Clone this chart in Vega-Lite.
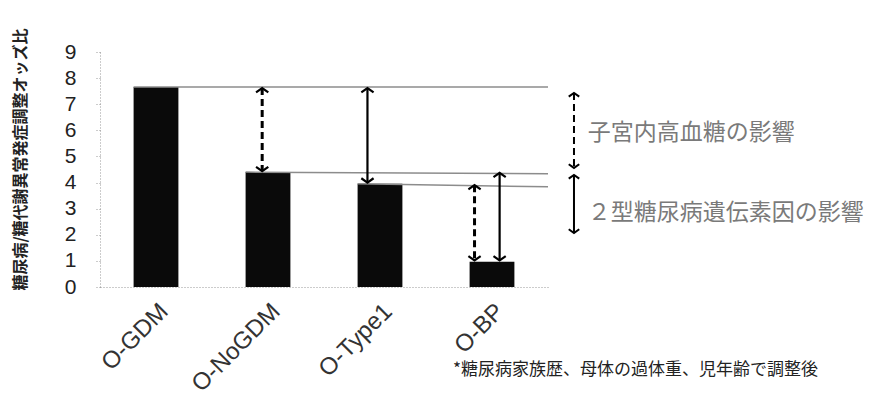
{
  "$schema": "https://vega.github.io/schema/vega-lite/v6.json",
  "width": 448,
  "height": 235,
  "autosize": "none",
  "padding": {"left": 100, "top": 52, "right": 326, "bottom": 116},
  "background": "white",
  "config": {
    "view": {"stroke": null},
    "font": "Liberation Sans",
    "scale": {"bandPaddingInner": 0.6, "bandPaddingOuter": 0.3},
    "axis": {"domainColor": "#999", "domainDash": [1, 2], "tickColor": "#999", "tickDash": [1, 2], "labelColor": "#222", "labelFont": "Liberation Sans", "grid": false}
  },
  "datasets": {
    "bars": [
      {"group": "O-GDM", "or": 7.66},
      {"group": "O-NoGDM", "or": 4.4},
      {"group": "O-Type1", "or": 3.95},
      {"group": "O-BP", "or": 0.97}
    ],
    "lines": [
      {"group": "O-GDM", "y": 7.66, "yEnd": 7.66},
      {"group": "O-NoGDM", "y": 4.4, "yEnd": 4.34},
      {"group": "O-Type1", "y": 3.95, "yEnd": 3.84}
    ],
    "arrows": [
      {"group": "O-NoGDM", "effect": "子宮内高血糖の影響", "pos": 0.37, "top": 7.62, "bottom": 4.44},
      {"group": "O-Type1", "effect": "２型糖尿病遺伝素因の影響", "pos": 0.22, "top": 7.62, "bottom": 4.0},
      {"group": "O-BP", "effect": "子宮内高血糖の影響", "pos": 0.11, "top": 3.9, "bottom": 1.02},
      {"group": "O-BP", "effect": "２型糖尿病遺伝素因の影響", "pos": 0.67, "top": 4.37, "bottom": 1.02}
    ],
    "legend": [
      {"effect": "子宮内高血糖の影響", "top": 7.43, "bottom": 4.56, "labelY": 5.89},
      {"effect": "２型糖尿病遺伝素因の影響", "top": 4.29, "bottom": 2.07, "labelY": 2.83}
    ],
    "note": [
      {"text": "*糖尿病家族歴、母体の過体重、児年齢で調整後"}
    ]
  },
  "layer": [
    {
      "data": {"name": "bars"},
      "mark": {"type": "bar", "color": "#0a0a0a", "width": 44.8},
      "encoding": {
        "x": {"field": "group", "type": "nominal", "scale": {"domain": ["O-GDM", "O-NoGDM", "O-Type1", "O-BP"]}, "title": null,
          "axis": {"labelAngle": -45, "labelFontSize": 24, "ticks": false, "labelPadding": 12, "labelColor": "#333", "labelAlign": "right", "labelBaseline": "top"}},
        "y": {"field": "or", "type": "quantitative", "scale": {"domain": [0, 9], "nice": false},
          "title": "糖尿病/糖代謝異常発症調整オッズ比",
          "axis": {"values": [0, 1, 2, 3, 4, 5, 6, 7, 8, 9], "tickCount": 10, "labelOverlap": false, "labelFontSize": 21, "tickSize": 4, "labelPadding": 20,
            "titleFont": "Noto Sans CJK JP", "titleFontSize": 16, "titleFontWeight": "bold", "titleColor": "#222",
            "titleX": -80, "titleY": 107, "titleBaseline": "middle", "titleAngle": -90, "titleAlign": "center"}}
      }
    },
    {
      "data": {"name": "lines"},
      "mark": {"type": "rule", "color": "#8c8c8c", "strokeWidth": 1.5},
      "encoding": {
        "x": {"field": "group", "type": "nominal", "bandPosition": 0, "scale": {"domain": ["O-GDM", "O-NoGDM", "O-Type1", "O-BP"]}, "title": null},
        "x2": {"datum": "O-BP", "bandPosition": 1.75},
        "y": {"field": "y", "type": "quantitative", "scale": {"domain": [0, 9], "nice": false}, "title": "糖尿病/糖代謝異常発症調整オッズ比"},
        "y2": {"field": "yEnd"}
      }
    },
    {
      "data": {"name": "arrows"},
      "mark": {"type": "rule", "color": "#000"},
      "encoding": {
        "x": {"field": "group", "type": "nominal", "scale": {"domain": ["O-GDM", "O-NoGDM", "O-Type1", "O-BP"]}, "title": null},
        "xOffset": {"field": "pos", "type": "quantitative", "scale": {"domain": [0, 1], "nice": false, "zero": false}},
        "y": {"field": "top", "type": "quantitative", "scale": {"domain": [0, 9], "nice": false}, "title": "糖尿病/糖代謝異常発症調整オッズ比"},
        "y2": {"field": "bottom"},
        "strokeDash": {"field": "effect", "type": "nominal", "scale": {"domain": ["子宮内高血糖の影響", "２型糖尿病遺伝素因の影響"], "range": [[7, 4], [1, 0]]}, "legend": null},
        "strokeWidth": {"field": "effect", "type": "ordinal", "scale": {"domain": ["子宮内高血糖の影響", "２型糖尿病遺伝素因の影響"], "range": [3, 2.2]}, "legend": null}
      }
    },
    {
      "data": {"name": "arrows"},
      "transform": [{"fold": ["top", "bottom"], "as": ["end", "yv"]}],
      "mark": {"type": "point", "filled": false, "stroke": "#000", "strokeWidth": 2.2, "opacity": 1, "size": 150},
      "encoding": {
        "x": {"field": "group", "type": "nominal", "scale": {"domain": ["O-GDM", "O-NoGDM", "O-Type1", "O-BP"]}, "title": null},
        "xOffset": {"field": "pos", "type": "quantitative", "scale": {"domain": [0, 1], "nice": false, "zero": false}},
        "y": {"field": "yv", "type": "quantitative", "scale": {"domain": [0, 9], "nice": false}, "title": "糖尿病/糖代謝異常発症調整オッズ比"},
        "shape": {"field": "end", "type": "nominal", "scale": {"domain": ["top", "bottom"], "range": ["M-1,0.7L0,0L1,0.7", "M-1,-0.7L0,0L1,-0.7"]}, "legend": null}
      }
    },
    {
      "data": {"name": "legend"},
      "mark": {"type": "rule", "color": "#000", "strokeWidth": 2},
      "encoding": {
        "x": {"datum": "O-BP", "type": "nominal", "scale": {"domain": ["O-GDM", "O-NoGDM", "O-Type1", "O-BP"]}, "title": null},
        "xOffset": {"datum": 2.33, "type": "quantitative", "scale": {"domain": [0, 1], "nice": false, "zero": false}},
        "y": {"field": "top", "type": "quantitative", "scale": {"domain": [0, 9], "nice": false}, "title": "糖尿病/糖代謝異常発症調整オッズ比"},
        "y2": {"field": "bottom"},
        "strokeDash": {"field": "effect", "type": "nominal", "scale": {"domain": ["子宮内高血糖の影響", "２型糖尿病遺伝素因の影響"], "range": [[4, 2], [1, 0]]}, "legend": null}
      }
    },
    {
      "data": {"name": "legend"},
      "transform": [{"fold": ["top", "bottom"], "as": ["end", "yv"]}],
      "mark": {"type": "point", "filled": false, "stroke": "#000", "strokeWidth": 2, "opacity": 1, "size": 110},
      "encoding": {
        "x": {"datum": "O-BP", "type": "nominal", "scale": {"domain": ["O-GDM", "O-NoGDM", "O-Type1", "O-BP"]}, "title": null},
        "xOffset": {"datum": 2.33, "type": "quantitative", "scale": {"domain": [0, 1], "nice": false, "zero": false}},
        "y": {"field": "yv", "type": "quantitative", "scale": {"domain": [0, 9], "nice": false}, "title": "糖尿病/糖代謝異常発症調整オッズ比"},
        "shape": {"field": "end", "type": "nominal", "scale": {"domain": ["top", "bottom"], "range": ["M-1,0.7L0,0L1,0.7", "M-1,-0.7L0,0L1,-0.7"]}, "legend": null}
      }
    },
    {
      "data": {"name": "legend"},
      "mark": {"type": "text", "align": "left", "baseline": "middle", "font": "Noto Sans CJK JP", "fontSize": 23, "color": "#7a7a7a"},
      "encoding": {
        "x": {"datum": "O-BP", "type": "nominal", "scale": {"domain": ["O-GDM", "O-NoGDM", "O-Type1", "O-BP"]}, "title": null},
        "xOffset": {"datum": 2.64, "type": "quantitative", "scale": {"domain": [0, 1], "nice": false, "zero": false}},
        "y": {"field": "labelY", "type": "quantitative", "scale": {"domain": [0, 9], "nice": false}, "title": "糖尿病/糖代謝異常発症調整オッズ比"},
        "text": {"field": "effect"}
      }
    },
    {
      "data": {"name": "note"},
      "mark": {"type": "text", "align": "left", "baseline": "middle", "font": "Noto Sans CJK JP", "fontSize": 17, "color": "#222"},
      "encoding": {
        "x": {"datum": "O-BP", "type": "nominal", "scale": {"domain": ["O-GDM", "O-NoGDM", "O-Type1", "O-BP"]}, "title": null},
        "xOffset": {"datum": -0.37, "type": "quantitative", "scale": {"domain": [0, 1], "nice": false, "zero": false}},
        "y": {"datum": -3.18, "type": "quantitative", "scale": {"domain": [0, 9], "nice": false}, "title": "糖尿病/糖代謝異常発症調整オッズ比"},
        "text": {"field": "text"}
      }
    }
  ]
}
